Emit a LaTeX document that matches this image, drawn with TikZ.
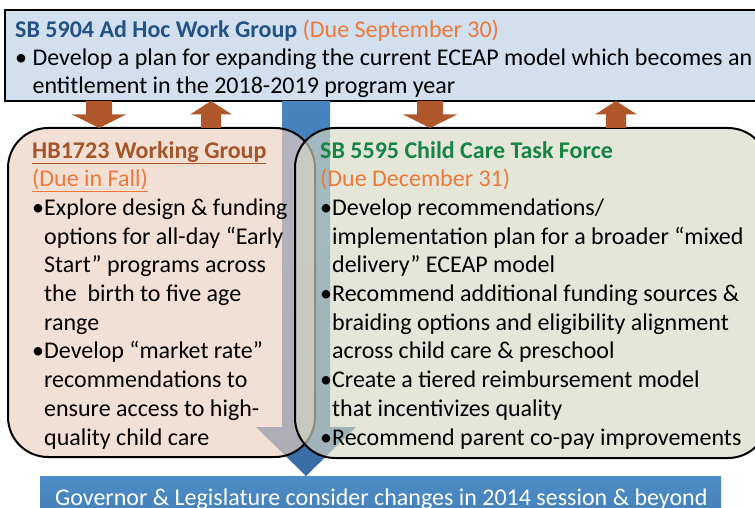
\documentclass[tikz,border=0pt]{standalone}
\usepackage{fontspec}
\setmainfont{Carlito}
\usepackage{tikz}
\usetikzlibrary{calc}

\definecolor{adhocfill}{RGB}{210,223,238}
\definecolor{adhocblue}{RGB}{36,82,134}
\definecolor{dueorange}{RGB}{236,120,58}
\definecolor{hbfill}{RGB}{237,207,190}
\definecolor{hbbrown}{RGB}{166,84,42}
\definecolor{tffill}{RGB}{213,217,195}
\definecolor{tfgreen}{RGB}{22,132,66}
\definecolor{feedbrown}{RGB}{176,88,43}
\definecolor{flowblue}{RGB}{72,132,192}
\definecolor{flowdark}{RGB}{58,108,164}
\definecolor{govtop}{RGB}{78,142,200}
\definecolor{govbottom}{RGB}{62,118,176}

% brown block arrows between the work groups
\newcommand{\blockdown}[3]{%
  \path (#3,0 |- #1.south) coordinate (from) (#3,0 |- #2.north) coordinate (to);
  \fill[feedbrown] (from) ++(-13,0) -- ++(26,0) -- ($(from)!0.5!(to)+(13,0)$)
    -- ($(from)!0.5!(to)+(27,0)$) -- (to) -- ($(from)!0.5!(to)+(-27,0)$)
    -- ($(from)!0.5!(to)+(-13,0)$) -- cycle;}
\newcommand{\blockup}[3]{%
  \path (#3,0 |- #1.south) coordinate (to) (#3,0 |- #2.north) coordinate (from);
  \fill[feedbrown] (from) ++(-10,0) -- ++(20,0) -- ($(from)!0.5!(to)+(10,0)$)
    -- ($(from)!0.5!(to)+(21,0)$) -- (to) -- ($(from)!0.5!(to)+(-21,0)$)
    -- ($(from)!0.5!(to)+(-10,0)$) -- cycle;}
\newcommand{\bul}{\textbullet}
\newcommand{\hang}{\hphantom{\textbullet}}

\begin{document}
\begin{tikzpicture}[x=1pt,y=-1pt,
  txt/.style={inner sep=0pt, align=left, anchor=base west,
    font=\fontsize{24}{28.7}\selectfont}]
\useasboundingbox (0,0) rectangle (755,508);
\clip (0,0) rectangle (755,508);

\node[draw, line width=2.5pt, outer sep=0pt, fill=adhocfill,
  minimum width=775pt, minimum height=91pt] (adhoc) at (392.5,55.5) {};

\node[outer sep=0pt, fill=govtop, minimum width=681pt, minimum height=64pt,
  top color=govtop, bottom color=govbottom] (governor) at (380.5,508) {};

% main flow down to the legislature
\coordinate (flowtop) at (306,0 |- adhoc.south);
\coordinate (flowtip) at (governor.north -| flowtop);
\shade[top color=flowblue, bottom color=flowdark]
  (flowtop) ++(-24,0) -- ++(48,0) -- ($(flowtip)+(24,-49)$) -- ($(flowtip)+(50,-49)$)
  -- (flowtip) -- ($(flowtip)+(-50,-49)$) -- ($(flowtip)+(-24,-49)$) -- cycle;

\node[draw, line width=2pt, outer sep=0pt, rounded corners=40pt, fill=hbfill,
  fill opacity=0.65, minimum width=307pt, minimum height=329pt] (hbgroup) at (161.5,292.5) {};
\node[draw, line width=2pt, outer sep=0pt, rounded corners=40pt, fill=tffill,
  fill opacity=0.65, minimum width=473pt, minimum height=330pt] (taskforce) at (531.5,293) {};

\blockdown{adhoc}{hbgroup}{99}
\blockup{adhoc}{hbgroup}{211}
\blockdown{adhoc}{taskforce}{430}
\blockup{adhoc}{taskforce}{616}

\node[txt, font=\fontsize{24}{28}\selectfont] (adhoc-text) at (15,94)
{{\color{adhocblue}\bfseries SB 5904 Ad Hoc Work Group} {\color{dueorange}(Due September 30)}\\
\bul\ Develop a plan for expanding the current ECEAP model which becomes an\\
\hphantom{\bul\ }entitlement in the 2018-2019 program year};

\node[txt] (hbgroup-text) at (32,445)
{{\color{hbbrown}\bfseries\underline{HB1723 Working Group}}\\
{\color{dueorange}\underline{(Due in Fall)}}\\
\bul Explore design \& funding\\
\hang options for all-day “Early\\
\hang Start” programs across\\
\hang the~ birth to five age\\
\hang range\\
\bul Develop “market rate”\\
\hang recommendations to\\
\hang ensure access to high-\\
\hang quality child care};

\node[txt] (taskforce-text) at (320,445)
{{\color{tfgreen}\bfseries SB 5595 Child Care Task Force}\\
{\color{dueorange}(Due December 31)}\\
\bul Develop recommendations/\\
\hang implementation plan for a broader “mixed\\
\hang delivery” ECEAP model\\
\bul Recommend additional funding sources \&\\
\hang braiding options and eligibility alignment\\
\hang across child care \& preschool\\
\bul Create a tiered reimbursement model\\
\hang that incentivizes quality\\
\bul Recommend parent co-pay improvements};

\node[txt, text=white] (governor-text) at (55,505)
{Governor \& Legislature consider changes in 2014 session \& beyond};
\end{tikzpicture}
\end{document}
